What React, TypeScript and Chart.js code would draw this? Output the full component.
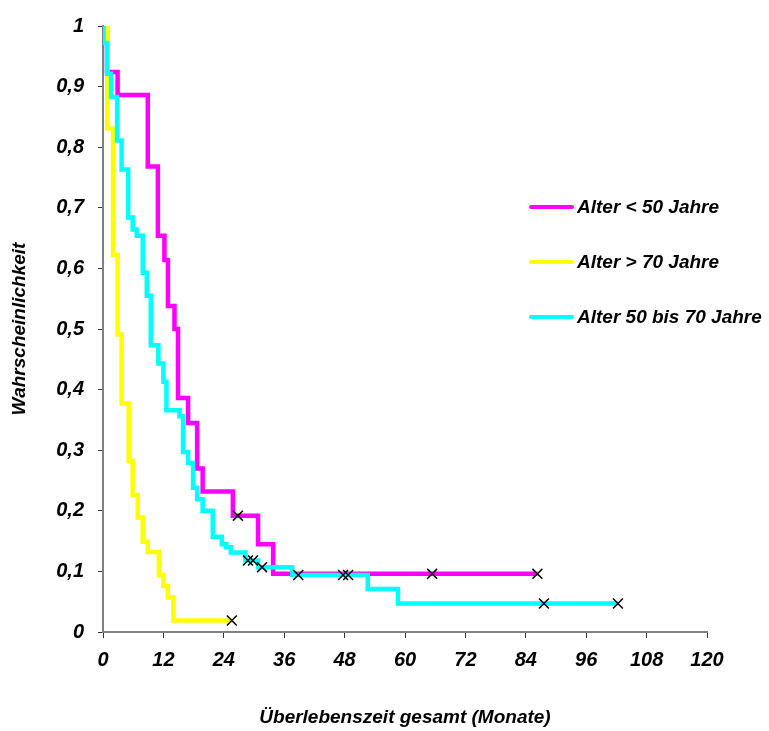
import React, { useEffect, useRef } from "react";
import { Chart, registerables } from "chart.js";

Chart.register(...registerables);

// Axis ticks
const xTicks = [0, 12, 24, 36, 48, 60, 72, 84, 96, 108, 120];
const yTicks = [0, 0.1, 0.2, 0.3, 0.4, 0.5, 0.6, 0.7, 0.8, 0.9, 1];
const yTickLabels = ["0", "0,1", "0,2", "0,3", "0,4", "0,5", "0,6", "0,7", "0,8", "0,9", "1"];

// Kaplan-Meier: Alter < 50 Jahre (months, survival)
const youngTimes = [0, 0.8, 2.9, 8.9, 10.9, 12.2, 12.9, 14.2, 14.9, 16.9, 18.7, 19.8, 25.8, 30.8, 33.8, 86.3];
const youngSurv = [1, 0.924, 0.886, 0.768, 0.654, 0.614, 0.538, 0.5, 0.386, 0.345, 0.27, 0.232, 0.192, 0.145, 0.096, 0.096];
const youngCensored = [26.8, 65.4, 86.3];

// Kaplan-Meier: Alter > 70 Jahre
const oldTimes = [0, 0.85, 2.0, 2.9, 3.7, 5.1, 5.9, 6.9, 7.9, 8.9, 11.1, 12.0, 12.9, 14.0, 25.6];
const oldSurv = [1, 0.831, 0.622, 0.491, 0.377, 0.282, 0.226, 0.189, 0.149, 0.132, 0.094, 0.076, 0.057, 0.019, 0.019];
const oldCensored = [25.6];

// Kaplan-Meier: Alter 50 bis 70 Jahre
const midTimes = [0, 0.1, 0.8, 1.6, 2.8, 3.7, 5.0, 5.9, 6.7, 7.9, 8.7, 9.5, 11.0, 12.0, 12.6, 15.2, 15.9, 16.9, 17.9, 18.7, 19.8, 21.8, 23.6, 24.5, 25.4, 28.3, 30.8, 37.6, 52.6, 58.6, 102.3];
const midSurv = [1, 0.972, 0.921, 0.883, 0.811, 0.763, 0.684, 0.664, 0.654, 0.593, 0.555, 0.473, 0.443, 0.413, 0.366, 0.356, 0.297, 0.279, 0.238, 0.219, 0.2, 0.157, 0.145, 0.14, 0.131, 0.118, 0.107, 0.094, 0.071, 0.047, 0.047];
const midCensored = [28.8, 29.8, 31.6, 38.8, 47.7, 48.7, 87.6, 102.3];

const groupLabels = ["Alter < 50 Jahre", "Alter > 70 Jahre", "Alter 50 bis 70 Jahre"];
const groupColors = ["#FF00FF", "#FFFF00", "#00FFFF"];

const FONT = "'Liberation Sans', Arial, sans-serif";

function curve(times: number[], surv: number[]) {
  return times.map((t, i) => ({ x: t, y: surv[i] }));
}

// survival value in effect at time t (step function, right-continuous)
function survAt(times: number[], surv: number[], t: number) {
  let v = surv[0];
  for (let i = 0; i < times.length; i++) {
    if (times[i] <= t) v = surv[i];
  }
  return v;
}

function marks(times: number[], surv: number[], cens: number[]) {
  return cens.map((t) => ({ x: t, y: survAt(times, surv, t) }));
}

const sideLegend = {
  id: "sideLegend",
  afterDraw(chart: any) {
    const ctx: CanvasRenderingContext2D = chart.ctx;
    ctx.save();
    ctx.font = `italic bold 19px ${FONT}`;
    ctx.textBaseline = "middle";
    ctx.textAlign = "left";
    groupLabels.forEach((label, i) => {
      const y = 207 + i * 55;
      ctx.strokeStyle = groupColors[i];
      ctx.lineWidth = 4;
      ctx.lineCap = "round";
      ctx.beginPath();
      ctx.moveTo(531, y);
      ctx.lineTo(572, y);
      ctx.stroke();
      ctx.fillStyle = "#000";
      ctx.fillText(label, 577, y + 1);
    });
    ctx.restore();
  },
};

export default function App() {
  const ref = useRef<HTMLCanvasElement | null>(null);

  useEffect(() => {
    if (!ref.current) return;
    const lineBase = {
      type: "line" as const,
      stepped: "before" as const,
      pointRadius: 0,
      borderWidth: 4.5,
      fill: false,
      borderJoinStyle: "miter" as const,
      borderCapStyle: "butt" as const,
    };
    const chart = new Chart(ref.current, {
      type: "line",
      data: {
        datasets: [
          {
            type: "scatter",
            label: "zensiert",
            data: [
              ...marks(youngTimes, youngSurv, youngCensored),
              ...marks(oldTimes, oldSurv, oldCensored),
              ...marks(midTimes, midSurv, midCensored),
            ],
            pointStyle: "crossRot",
            pointRadius: 7,
            borderColor: "#000",
            backgroundColor: "#000",
            borderWidth: 1.5,
            showLine: false,
            order: 0,
          } as any,
          { ...lineBase, label: groupLabels[2], data: curve(midTimes, midSurv), borderColor: groupColors[2], order: 1 },
          { ...lineBase, label: groupLabels[1], data: curve(oldTimes, oldSurv), borderColor: groupColors[1], order: 2 },
          { ...lineBase, label: groupLabels[0], data: curve(youngTimes, youngSurv), borderColor: groupColors[0], order: 3 },
        ],
      },
      options: {
        responsive: false,
        animation: false,
        layout: { padding: { top: 22, right: 62, left: 0, bottom: 0 } },
        plugins: {
          legend: { display: false },
          tooltip: { enabled: false },
        },
        scales: {
          x: {
            type: "linear",
            min: 0,
            max: 120,
            afterBuildTicks: (s: any) => {
              s.ticks = xTicks.map((v) => ({ value: v }));
            },
            afterFit: (s: any) => {
              s.height = 99;
            },
            ticks: {
              color: "#000",
              padding: 10,
              maxRotation: 0,
              autoSkip: false,
              font: { family: FONT, size: 20, style: "italic", weight: "bold" },
            },
            grid: { drawOnChartArea: false, drawTicks: true, tickLength: 6, tickColor: "#333" },
            border: { color: "#808080", width: 2 },
            title: {
              display: true,
              text: "Überlebenszeit gesamt (Monate)",
              color: "#000",
              font: { family: FONT, size: 19, style: "italic", weight: "bold" },
              padding: { top: 0, bottom: 2 },
            },
          },
          y: {
            type: "linear",
            min: 0,
            max: 1,
            afterBuildTicks: (s: any) => {
              s.ticks = yTicks.map((v) => ({ value: v }));
            },
            afterFit: (s: any) => {
              s.width = 103;
            },
            ticks: {
              color: "#000",
              padding: 14,
              autoSkip: false,
              callback: (_v: any, i: number) => yTickLabels[i],
              font: { family: FONT, size: 20, style: "italic", weight: "bold" },
            },
            grid: { drawOnChartArea: false, drawTicks: true, tickLength: 5, tickColor: "#333" },
            border: { color: "#808080", width: 2 },
            title: {
              display: true,
              text: "Wahrscheinlichkeit",
              color: "#000",
              font: { family: FONT, size: 19, style: "italic", weight: "bold" },
              padding: { top: 8, bottom: 0 },
            },
          },
        },
      },
      plugins: [sideLegend],
    });
    return () => chart.destroy();
  }, []);

  return (
    <div style={{ position: "absolute", left: 0, top: 0, width: 769, height: 731, background: "#fff" }}>
      <canvas ref={ref} width={769} height={731} style={{ display: "block" }} />
    </div>
  );
}
